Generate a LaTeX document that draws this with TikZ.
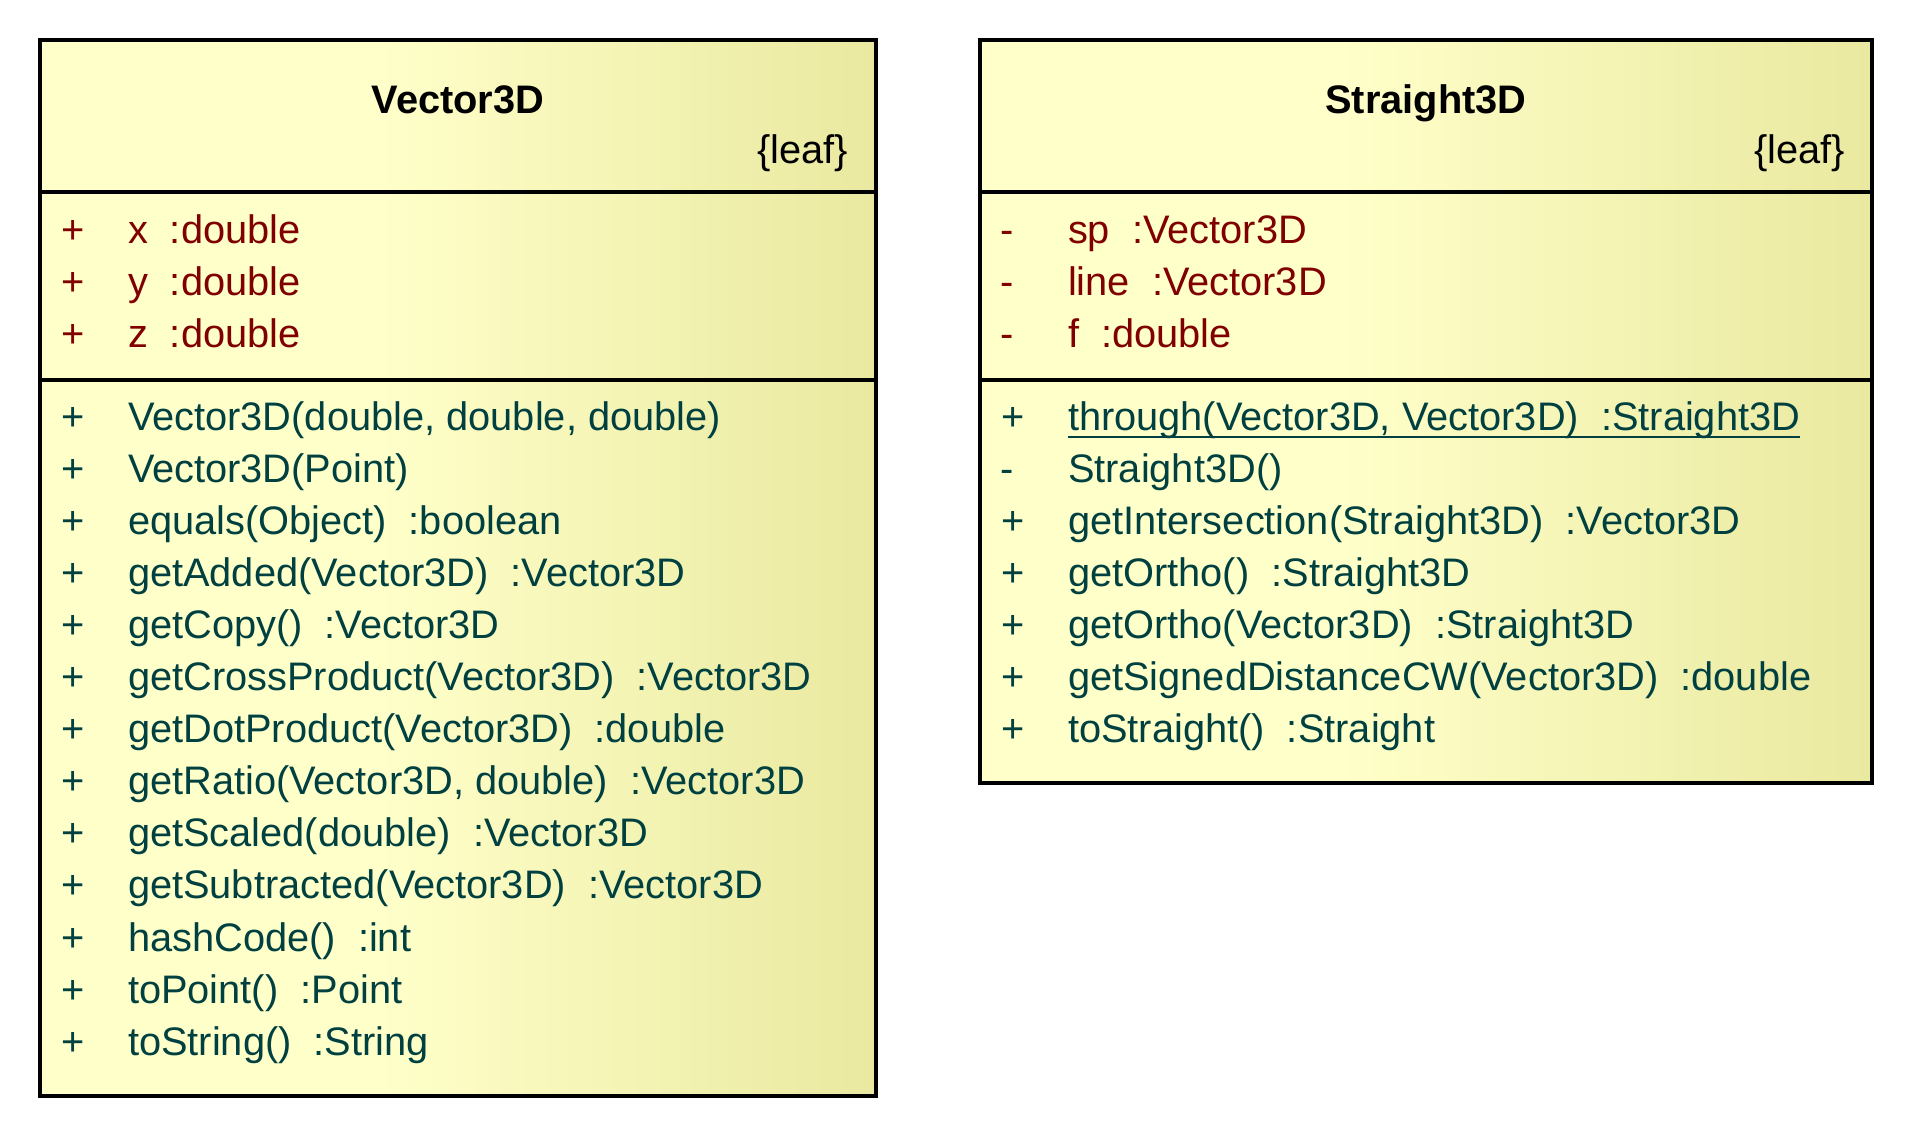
\documentclass[tikz,border=0pt]{standalone}
\usepackage{fontspec}
\setmainfont{Liberation Sans}
\definecolor{fillA}{RGB}{255,255,202}
\definecolor{fillB}{RGB}{233,233,160}
\definecolor{attrc}{RGB}{128,0,0}
\definecolor{opc}{RGB}{0,64,64}
\pgfdeclarehorizontalshading{umlfill}{100bp}{color(0bp)=(fillA); color(25bp)=(fillA); color(45bp)=(fillA); color(75bp)=(fillB); color(100bp)=(fillB)}
\begin{document}
\begin{tikzpicture}[x=1pt,y=-1pt,
  txt/.style={inner sep=0pt, outer sep=0pt, anchor=base west, font=\fontsize{39.8}{47}\selectfont},
  attr/.style={txt, text=attrc},
  oper/.style={txt, text=opc},
  ttl/.style={inner sep=0pt, outer sep=0pt, anchor=base, font=\fontsize{39.8}{47}\selectfont\bfseries},
  leafst/.style={inner sep=0pt, outer sep=0pt, anchor=base east, font=\fontsize{39.8}{47}\selectfont},
  frame/.style={draw=black, line width=3.6pt},
  sep/.style={draw=black, line width=3.4pt}]
\useasboundingbox[fill=white] (0,0) rectangle (1916,1140);

% ---------- Vector3D ----------
\shade[shading=umlfill] (40,40) rectangle (876,1096);
\draw[sep] (40,192) -- (876,192);
\draw[sep] (40,380) -- (876,380);
\draw[frame] (40,40) rectangle (876,1096);
\node[ttl] (vt) at (458,113) {Vector3D};
\node[leafst] (vl) at (848,163) {\{leaf\}};

\node[attr] (va1s) at (61,243) {+};
\node[attr] (va1) at (128,243) {x\ \ :double};
\node[attr] (va2s) at (61,295) {+};
\node[attr] (va2) at (128,295) {y\ \ :double};
\node[attr] (va3s) at (61,347) {+};
\node[attr] (va3) at (128,347) {z\ \ :double};

\node[oper] (vo1s) at (61,430) {+};
\node[oper] (vo1) at (128,430) {Vector3D(double, double, double)};
\node[oper] (vo2s) at (61,482.1) {+};
\node[oper] (vo2) at (128,482.1) {Vector3D(Point)};
\node[oper] (vo3s) at (61,534.2) {+};
\node[oper] (vo3) at (128,534.2) {equals(Object)\ \ :boolean};
\node[oper] (vo4s) at (61,586.3) {+};
\node[oper] (vo4) at (128,586.3) {getAdded(Vector3D)\ \ :Vector3D};
\node[oper] (vo5s) at (61,638.4) {+};
\node[oper] (vo5) at (128,638.4) {getCopy()\ \ :Vector3D};
\node[oper] (vo6s) at (61,690.5) {+};
\node[oper] (vo6) at (128,690.5) {getCrossProduct(Vector3D)\ \ :Vector3D};
\node[oper] (vo7s) at (61,742.6) {+};
\node[oper] (vo7) at (128,742.6) {getDotProduct(Vector3D)\ \ :double};
\node[oper] (vo8s) at (61,794.7) {+};
\node[oper] (vo8) at (128,794.7) {getRatio(Vector3D, double)\ \ :Vector3D};
\node[oper] (vo9s) at (61,846.8) {+};
\node[oper] (vo9) at (128,846.8) {getScaled(double)\ \ :Vector3D};
\node[oper] (vo10s) at (61,898.9) {+};
\node[oper] (vo10) at (128,898.9) {getSubtracted(Vector3D)\ \ :Vector3D};
\node[oper] (vo11s) at (61,951) {+};
\node[oper] (vo11) at (128,951) {hashCode()\ \ :int};
\node[oper] (vo12s) at (61,1003.1) {+};
\node[oper] (vo12) at (128,1003.1) {toPoint()\ \ :Point};
\node[oper] (vo13s) at (61,1055.2) {+};
\node[oper] (vo13) at (128,1055.2) {toString()\ \ :String};

% ---------- Straight3D ----------
\shade[shading=umlfill] (980,40) rectangle (1872,783);
\draw[sep] (980,192) -- (1872,192);
\draw[sep] (980,380) -- (1872,380);
\draw[frame] (980,40) rectangle (1872,783);
\node[ttl] (st) at (1426,113) {Straight3D};
\node[leafst] (sl) at (1845,163) {\{leaf\}};

\node[attr] (sa1s) at (1000,243) {-};
\node[attr] (sa1) at (1068,243) {sp\ \ :Vector3D};
\node[attr] (sa2s) at (1000,295) {-};
\node[attr] (sa2) at (1068,295) {line\ \ :Vector3D};
\node[attr] (sa3s) at (1000,347) {-};
\node[attr] (sa3) at (1068,347) {f\ \ :double};

\node[oper] (so1s) at (1001,430) {+};
\node[oper] (so1) at (1068,430) {through(Vector3D, Vector3D)\ \ :Straight3D};
\draw[opc, line width=2.5pt] ([yshift=-7pt]so1.base west) -- ([yshift=-7pt]so1.base east);
\node[oper] (so2s) at (1000,482.1) {-};
\node[oper] (so2) at (1068,482.1) {Straight3D()};
\node[oper] (so3s) at (1001,534.2) {+};
\node[oper] (so3) at (1068,534.2) {getIntersection(Straight3D)\ \ :Vector3D};
\node[oper] (so4s) at (1001,586.3) {+};
\node[oper] (so4) at (1068,586.3) {getOrtho()\ \ :Straight3D};
\node[oper] (so5s) at (1001,638.4) {+};
\node[oper] (so5) at (1068,638.4) {getOrtho(Vector3D)\ \ :Straight3D};
\node[oper] (so6s) at (1001,690.5) {+};
\node[oper] (so6) at (1068,690.5) {getSignedDistanceCW(Vector3D)\ \ :double};
\node[oper] (so7s) at (1001,742.6) {+};
\node[oper] (so7) at (1068,742.6) {toStraight()\ \ :Straight};
\end{tikzpicture}
\end{document}
